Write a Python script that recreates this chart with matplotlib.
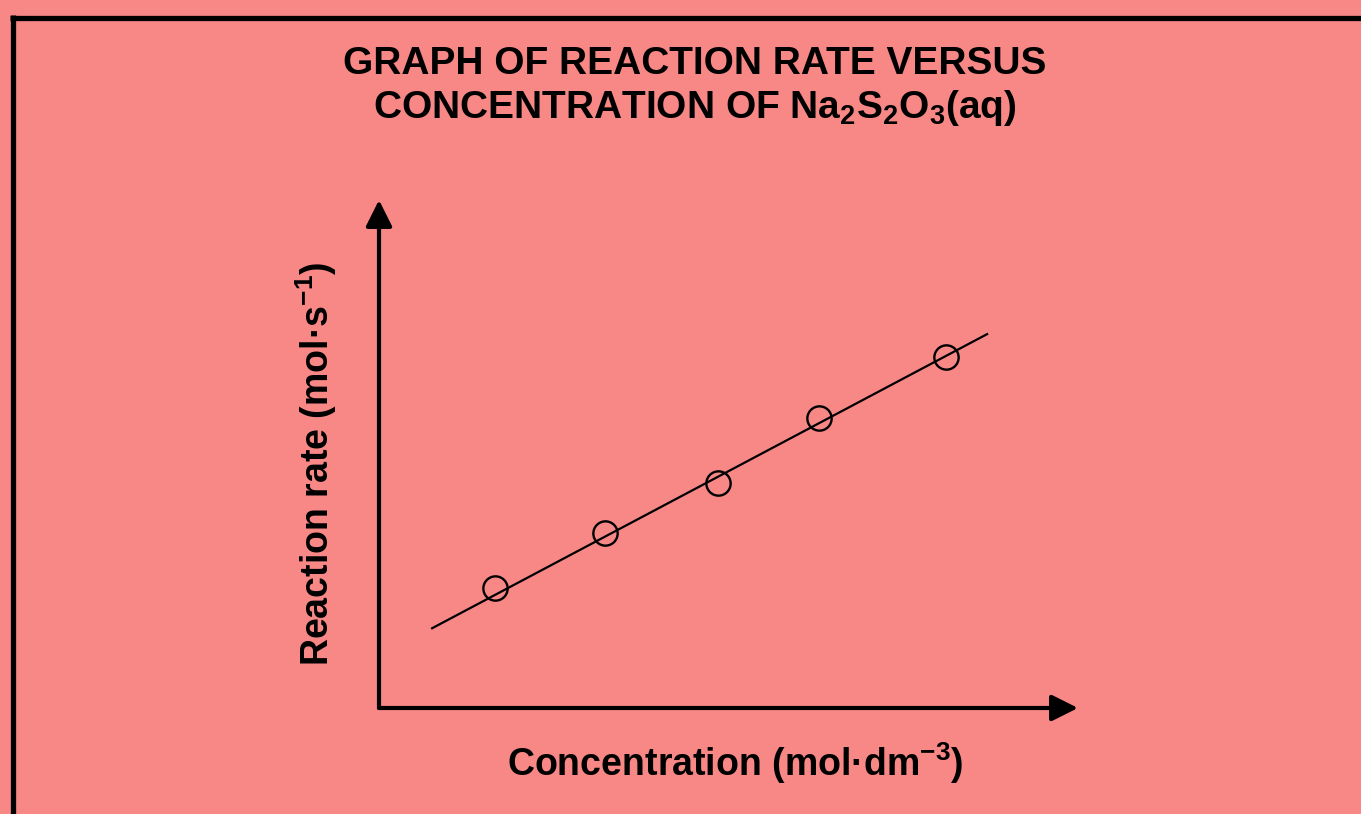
import matplotlib.pyplot as plt
from matplotlib.lines import Line2D

plt.rcParams["font.family"] = ["Liberation Sans", "DejaVu Sans"]
plt.rcParams["font.weight"] = "bold"
plt.rcParams["mathtext.fontset"] = "custom"
plt.rcParams["mathtext.rm"] = "Liberation Sans:bold"
plt.rcParams["mathtext.it"] = "Liberation Sans:bold"
plt.rcParams["mathtext.bf"] = "Liberation Sans:bold"

# data (arbitrary units, no scale shown)
concentration = [1.66, 3.23, 4.85, 6.30, 8.11]
rate = [2.36, 3.44, 4.43, 5.71, 6.91]
fit_x = [0.76, 8.70]
fit_y = [1.57, 7.36]

bg = "#F88886"

fig = plt.figure(figsize=(13.61, 8.14), dpi=100, facecolor=bg)
W, H = 1361, 814

# frame lines at top and left
fig.add_artist(Line2D([12.5 / W, 12.5 / W], [0, 1 - 15 / H], transform=fig.transFigure,
                      color="black", lw=3.8, solid_capstyle="butt"))
fig.add_artist(Line2D([10 / W, 1], [1 - 17.5 / H, 1 - 17.5 / H], transform=fig.transFigure,
                      color="black", lw=3.8, solid_capstyle="butt"))

ax = fig.add_axes([379 / W, 1 - 708 / H, (1078 - 379) / W, (708 - 200) / H])
ax.set_facecolor(bg)
ax.set_xlim(0, 10)
ax.set_ylim(0, 10)
for s in ax.spines.values():
    s.set_visible(False)
ax.set_xticks([])
ax.set_yticks([])

# axes with arrow heads
arrow = dict(arrowstyle="-|>,head_length=1.0,head_width=0.5", color="black", lw=3.0,
             shrinkA=0, shrinkB=0, mutation_scale=16)
ax.annotate("", xy=(1, 0), xytext=(0, 0), xycoords="axes fraction",
            arrowprops=arrow, annotation_clip=False)
ax.annotate("", xy=(0, 1), xytext=(0, 0), xycoords="axes fraction",
            arrowprops=arrow, annotation_clip=False)

ax.plot(fit_x, fit_y, color="black", lw=1.6, zorder=2)
ax.plot(concentration, rate, "o", ms=17.5, mfc="none", mec="black", mew=1.7, zorder=3)

fig.text(695 / W, 1 - 64 / H, "GRAPH OF REACTION RATE VERSUS",
         ha="center", va="center", fontsize=28, fontweight="bold")
fig.text(695 / W, 1 - 108 / H, "CONCENTRATION OF Na$_2$S$_2$O$_3$(aq)",
         ha="center", va="center", fontsize=28, fontweight="bold")

fig.text(735 / W, 1 - 763 / H, "Concentration (mol·dm$^{-3}$)",
         ha="center", va="center", fontsize=27, fontweight="bold")
fig.text(316 / W, 1 - 464 / H, "Reaction rate (mol·s$^{-1}$)", rotation=90,
         ha="center", va="center", fontsize=27, fontweight="bold")

fig.savefig("out.png", dpi=100, facecolor=bg)
